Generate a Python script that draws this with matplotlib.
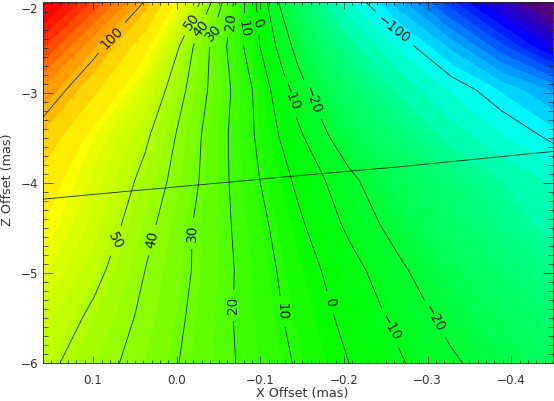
import numpy as np
import matplotlib
matplotlib.use('Agg')
import matplotlib.pyplot as plt
from matplotlib.colors import LinearSegmentedColormap, Normalize
from matplotlib.ticker import MultipleLocator

plt.rcParams['font.family'] = 'DejaVu Sans'
plt.rcParams['font.size'] = 8.6
plt.rcParams['axes.unicode_minus'] = True

# values
x_offset = [0.16, 0.099, 0.038, -0.023, -0.084, -0.145, -0.206, -0.267, -0.328, -0.389, -0.45]
z_offset = [-2.0, -2.48, -2.97, -3.47, -3.97, -4.47, -4.97, -5.47, -6.0]

field = [
    [190, 145,  98,  53,   8, -37, -84, -130, -178, -225, -270],
    [150, 106,  75,  38,   8, -24, -57,  -90, -126, -168, -212],
    [112,  85,  60,  35,  13, -15, -40,  -64,  -88, -112, -136],
    [ 92,  68,  52,  32,  13,  -8, -28,  -47,  -67,  -86, -105],
    [ 78,  62,  47,  31,  14,  -2, -17,  -32,  -47,  -62,  -77],
    [ 72,  58,  43,  29,  16,   2, -12,  -25,  -39,  -53,  -67],
    [ 65,  53,  40,  29,  17,   5,  -6,  -18,  -30,  -42,  -54],
    [ 58,  48,  38,  28,  17,   7,  -3,  -13,  -24,  -34,  -44],
    [ 53,  44,  36,  27,  18,   9,   0,   -9,  -18,  -27,  -36],
]

contour_levels = [-100, -20, -10, 0, 10, 20, 30, 40, 50, 100]
label_spots = [
    (0.0775, -2.39), (-0.259, -2.30), (-0.019, -2.21), (-0.031, -2.30), (-0.045, -2.33),
    (-0.064, -2.21), (-0.079, -2.29), (-0.096, -2.23), (-0.133, -3.05), (-0.159, -3.09),
    (0.074, -4.64), (0.027, -4.64), (-0.022, -4.56), (-0.070, -5.36), (-0.127, -5.43),
    (-0.185, -5.32), (-0.255, -5.61), (-0.310, -5.50),
]
label_angles = [45, -38, 55, 50, 50, 85, -80, -65, -68, -70, -62, 78, 88, 90, -88, -75, -60, -60]

# the other, nearly flat curve
line_x = [0.16, 0.056, -0.064, -0.12, -0.267, -0.45]
line_z = [-4.18, -4.09, -3.99, -3.94, -3.82, -3.65]

xticks = [0.1, 0.0, -0.1, -0.2, -0.3, -0.4]
zticks = [-2, -3, -4, -5, -6]

# colour bands are narrower around zero
bands = np.r_[np.arange(-290, -60, 12), np.arange(-60, 72, 4), np.arange(72, 205, 11)]
anchors = [(-290, '#5a0078'), (-255, '#5a0078'), (-200, '#0000ff'), (-100, '#00ffff'), (0, '#00ff00'),
           (72, '#ffff00'), (175, '#ff0000'), (200, '#ff0000')]
vmin, vmax = -290, 200
cmap = LinearSegmentedColormap.from_list(
    'rainbow_ref', [((v - vmin) / (vmax - vmin), c) for v, c in anchors])

fig = plt.figure(figsize=(5.54, 4.01), dpi=100)
ax = fig.add_axes([43 / 554, 1 - 363 / 401, 510 / 554, 361 / 401])

ax.contourf(x_offset, z_offset, field, levels=bands, cmap=cmap,
            norm=Normalize(vmin, vmax), antialiased=False)
cs = ax.contour(x_offset, z_offset, field, levels=contour_levels,
                colors='#103010', linewidths=0.6, linestyles='solid')
labels = ax.clabel(cs, manual=label_spots, inline=True, inline_spacing=7,
                   fontsize=9.8, colors='#102010',
                   fmt=lambda v: f'{v:.0f}'.replace('-', '\u2212'))
# clabel gets the angle wrong on a reversed x axis, set them by hand
for t, angle in zip(labels, label_angles):
    t.set_rotation(angle)
ax.plot(line_x, line_z, color='#103010', linewidth=0.6)

ax.set_xlim(0.16, -0.45)
ax.set_ylim(-6, -1.99)
ax.xaxis.set_major_locator(MultipleLocator(0.1))
ax.xaxis.set_minor_locator(MultipleLocator(0.01))
ax.yaxis.set_major_locator(MultipleLocator(1))
ax.yaxis.set_minor_locator(MultipleLocator(0.1))
ax.set_xticks(xticks)
ax.set_yticks(zticks)
ax.set_xticklabels([f'{v:.1f}'.replace('-', '\u2212') for v in xticks])
ax.set_yticklabels([f'{v}'.replace('-', '\u2212') for v in zticks])
ax.tick_params(axis='x', which='major', direction='in', top=True, length=5, width=0.5,
               pad=8, color='#222222', labelcolor='#333333')
ax.tick_params(axis='x', which='minor', direction='in', top=True, length=2.5, width=0.5,
               color='#222222')
ax.tick_params(axis='y', which='major', direction='in', right=True, length=7, width=0.5,
               pad=3.5, color='#222222', labelcolor='#333333')
ax.tick_params(axis='y', which='minor', direction='in', right=True, length=3.5, width=0.5,
               color='#222222')
ax.get_yticklabels()[0].set_va('top')
for s in ax.spines.values():
    s.set_linewidth(0.6)
    s.set_color('#222222')

fig.text(302 / 554, 1 - 393 / 401, 'X Offset (mas)', ha='center', va='center',
         color='#333333', fontsize=9.2)
fig.text(8 / 554, 1 - 180 / 401, 'Z Offset (mas)', ha='center', va='center',
         rotation=90, color='#333333', fontsize=9.2)

fig.savefig('out.png', dpi=100)
